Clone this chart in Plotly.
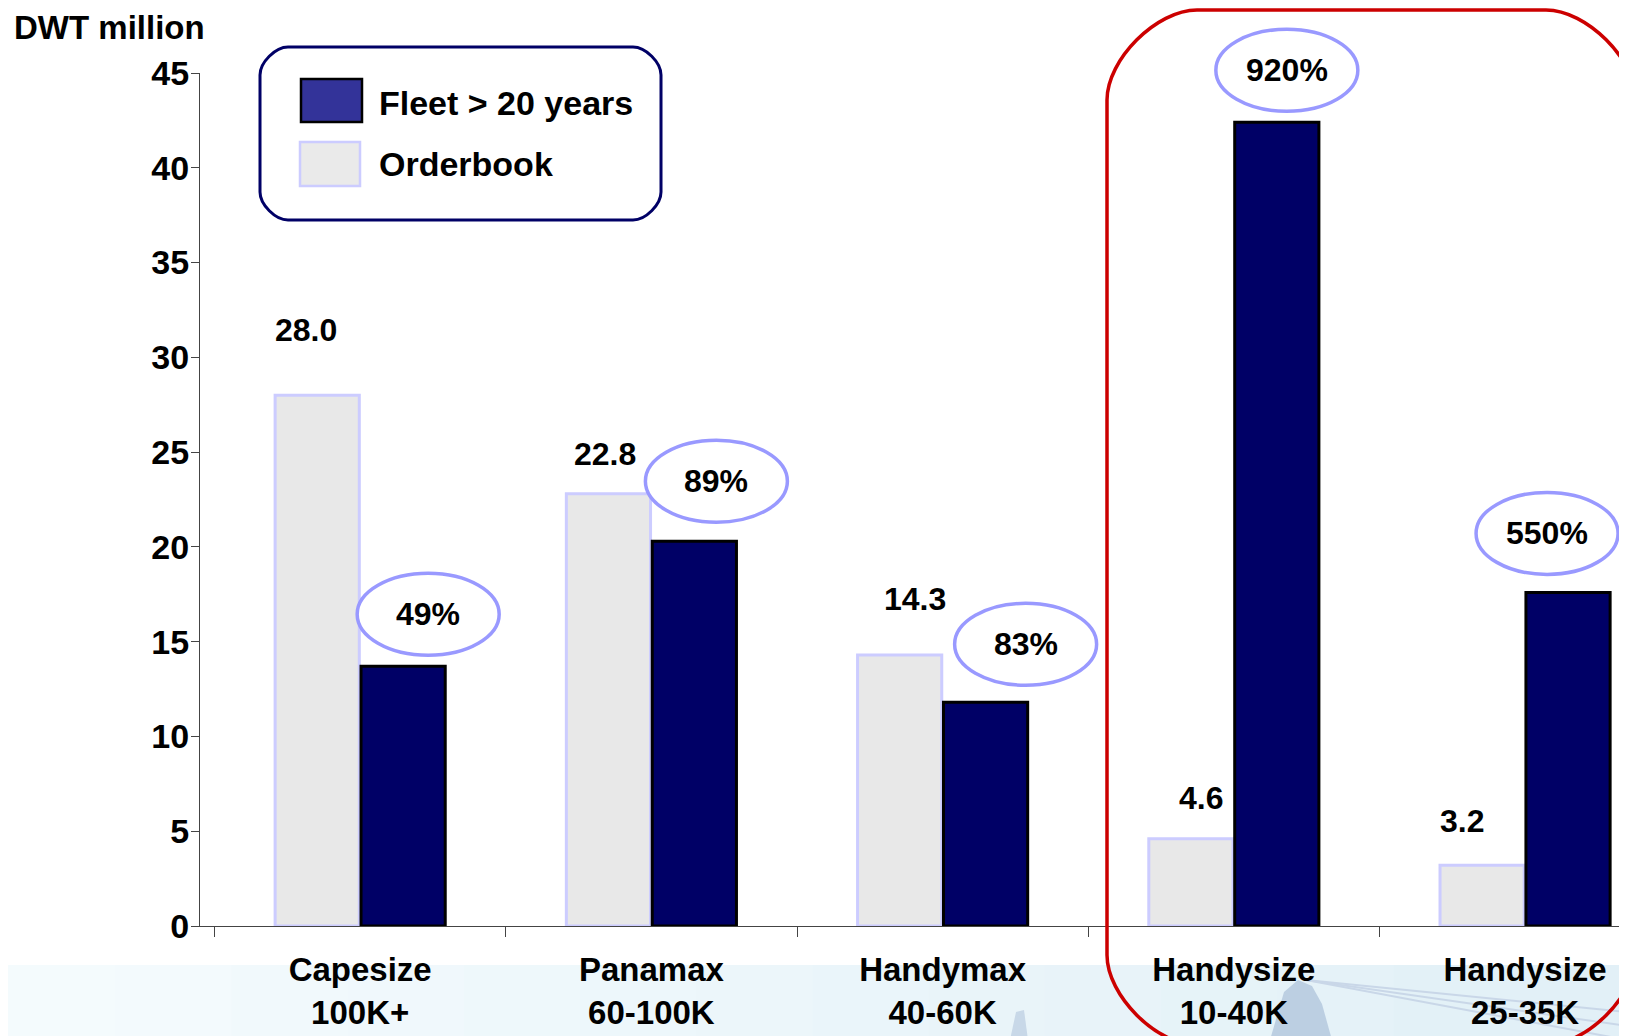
import plotly.graph_objects as go

# data
categories = ["Capesize<br>100K+", "Panamax<br>60-100K", "Handymax<br>40-60K",
              "Handysize<br>10-40K", "Handysize<br>25-35K"]
orderbook = [28.0, 22.8, 14.3, 4.6, 3.2]
fleet_20y = [13.7, 20.3, 11.8, 42.4, 17.6]
fleet_pct = ["49%", "89%", "83%", "920%", "550%"]

# label placement tweaks (pixels)
ob_dx = [-11, -3, 15, 10, -20]
ob_lift = [65, 40, 56, 41, 44]
pct_dx = [25, 22, 40, 10, -21]
pct_dy = [52, 60, 58, 52, 59]

# page has an 8px body margin, so the figure is drawn a bit smaller
OFF = 8
W, H = 1627, 1036
L, R, T, B = 200, 0, 73, 110
PW, PH = W - L - R, H - T - B
XR = [-0.55, 4.35]
YR = [0, 45]
FONT = "Arial, Liberation Sans, sans-serif"


def px(x):
    return (x - L) / PW


def py(y):
    return (H - B - y) / PH


def rrect(x0, y0, x1, y1, r):
    # rounded rectangle given in window pixels -> paper path
    k = 0.45 * r
    pts = [
        ("M", [(x0 + r, y0)]), ("L", [(x1 - r, y0)]),
        ("C", [(x1 - r + k, y0), (x1, y0 + r - k), (x1, y0 + r)]),
        ("L", [(x1, y1 - r)]),
        ("C", [(x1, y1 - r + k), (x1 - r + k, y1), (x1 - r, y1)]),
        ("L", [(x0 + r, y1)]),
        ("C", [(x0 + r - k, y1), (x0, y1 - r + k), (x0, y1 - r)]),
        ("L", [(x0, y0 + r)]),
        ("C", [(x0, y0 + r - k), (x0 + r - k, y0), (x0 + r, y0)]),
    ]
    s = ""
    for cmd, ps in pts:
        s += cmd + " ".join(f"{px(a):.5f},{py(b):.5f}" for a, b in ps) + " "
    return s + "Z"


def poly(points):
    return "M" + " L".join(f"{px(a):.5f},{py(b):.5f}" for a, b in points) + " Z"


trace1 = go.Bar(x=categories, y=orderbook, name="Orderbook",
                marker=dict(color="#e8e8e8", line=dict(color="#ccccff", width=3)))
trace2 = go.Bar(x=categories, y=fleet_20y, name="Fleet > 20 years",
                marker=dict(color="#000066", line=dict(color="#000000", width=3)))

fig = go.Figure(data=[trace1, trace2])

shapes = []
annotations = []

# pale slide background band at the bottom (soft left-to-right gradient)
n = 14
c0, c1 = (244, 251, 253), (226, 240, 247)
for j in range(n):
    t = j / (n - 1)
    col = tuple(round(c0[k] + (c1[k] - c0[k]) * t) for k in range(3))
    shapes.append(dict(type="rect", xref="paper", yref="paper", layer="below",
                       x0=px(W * j / n - 1), x1=px(W * (j + 1) / n + 1), y0=py(H + 5), y1=py(965),
                       fillcolor="rgb(%d,%d,%d)" % col, line=dict(width=0)))
# faint bridge in the background picture
shapes.append(dict(type="path", xref="paper", yref="paper", layer="below",
                   path=poly([(1270, 1040), (1284, 992), (1298, 980), (1312, 986),
                              (1322, 1004), (1332, 1040)]),
                   fillcolor="#bccfe2", line=dict(width=0)))
shapes.append(dict(type="path", xref="paper", yref="paper", layer="below",
                   path=poly([(1010, 1040), (1016, 1012), (1024, 1010), (1028, 1040)]),
                   fillcolor="#c8d8e8", line=dict(width=0)))
for yy in [1012, 1026, 1040]:
    shapes.append(dict(type="line", xref="paper", yref="paper", layer="below",
                       x0=px(1306), y0=py(980), x1=px(W), y1=py(yy),
                       line=dict(color="#c9d7e8", width=2)))

# red highlight frame
shapes.append(dict(type="path", xref="paper", yref="paper",
                   path=rrect(1107, 10, 1636, 1045, 90),
                   line=dict(color="#cc0000", width=3.5)))

# legend box
shapes.append(dict(type="path", xref="paper", yref="paper",
                   path=rrect(260, 47, 661, 220, 28), fillcolor="white",
                   line=dict(color="#000066", width=3)))
shapes.append(dict(type="rect", xref="paper", yref="paper",
                   x0=px(301), x1=px(362), y0=py(122), y1=py(79),
                   fillcolor="#333399", line=dict(color="#000000", width=2.5)))
shapes.append(dict(type="rect", xref="paper", yref="paper",
                   x0=px(300), x1=px(360), y0=py(186), y1=py(142),
                   fillcolor="#eaeaea", line=dict(color="#ccccff", width=2.5)))
for txt, yc in [("Fleet > 20 years", 103), ("Orderbook", 164)]:
    annotations.append(dict(text=txt, xref="paper", yref="paper", x=px(377), y=py(yc),
                            xanchor="left", yanchor="middle", showarrow=False,
                            font=dict(family=FONT, size=34, color="black", weight="bold")))

annotations.append(dict(text="DWT million", xref="paper", yref="paper", x=px(13), y=py(OFF),
                        xanchor="left", yanchor="top", showarrow=False, borderpad=0,
                        font=dict(family=FONT, size=33, color="black", weight="bold")))

for i in range(len(categories)):
    annotations.append(dict(text=f"{orderbook[i]:.1f}", x=i, y=orderbook[i], xref="x", yref="y",
                            xshift=-43 + ob_dx[i], yshift=ob_lift[i], showarrow=False,
                            yanchor="middle",
                            font=dict(family=FONT, size=32, color="black", weight="bold")))
    # ellipse around the ratio; paper refs so it is not clipped by the plot area
    cx = 43 + pct_dx[i]
    xa = (i - XR[0]) / (XR[1] - XR[0])
    ya = (fleet_20y[i] - YR[0]) / (YR[1] - YR[0])
    shapes.append(dict(type="circle", xref="paper", yref="paper",
                       xsizemode="pixel", ysizemode="pixel",
                       xanchor=xa, yanchor=ya, x0=cx - 71, x1=cx + 71,
                       y0=pct_dy[i] - 41, y1=pct_dy[i] + 41, fillcolor="white",
                       line=dict(color="#9999ff", width=3.5)))
    annotations.append(dict(text=fleet_pct[i], x=i, y=fleet_20y[i], xref="x", yref="y",
                            xshift=cx, yshift=pct_dy[i], showarrow=False, yanchor="middle",
                            font=dict(family=FONT, size=32, color="black", weight="bold")))

fig.update_layout(
    width=W - OFF, height=H - OFF,
    margin=dict(l=L - OFF, r=R, t=T - OFF, b=B, pad=0),
    paper_bgcolor="white", plot_bgcolor="rgba(0,0,0,0)",
    barmode="group", bargap=0.41, bargroupgap=0.02,
    showlegend=False,
    shapes=shapes, annotations=annotations,
    xaxis=dict(type="category", range=XR, tickson="boundaries", automargin=False,
               ticks="outside", ticklen=10, tickcolor="#444", showline=True,
               linecolor="#444", linewidth=1, showgrid=False, ticklabelstandoff=14,
               tickfont=dict(family=FONT, size=33, color="black", weight="bold")),
    yaxis=dict(range=YR, dtick=5, ticks="outside", ticklen=8, tickcolor="#444",
               showline=True, linecolor="#444", linewidth=1, showgrid=False, zeroline=False,
               ticklabelstandoff=-5, automargin=False,
               tickfont=dict(family=FONT, size=34, color="black", weight="bold")),
)

fig.write_html("out.html")
